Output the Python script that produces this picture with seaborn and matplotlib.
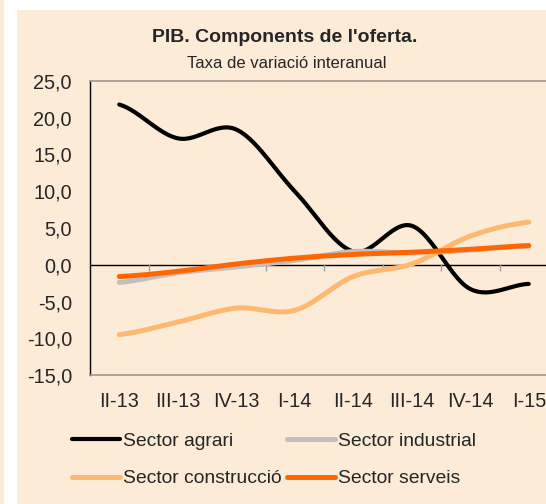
import numpy as np
import pandas as pd
import matplotlib
matplotlib.use("Agg")
import matplotlib.pyplot as plt
from matplotlib.lines import Line2D
from matplotlib.patches import Rectangle
import seaborn as sns

quarters = ["II-13", "III-13", "IV-13", "I-14", "II-14", "III-14", "IV-14", "I-15"]
agrari = [21.8, 17.2, 18.4, 10.0, 1.8, 5.3, -3.3, -2.6]
industrial = [-2.4, -1.1, -0.3, 0.6, 1.8, 1.6, 2.0, 2.6]
construccio = [-9.5, -7.8, -5.9, -6.2, -1.6, 0.1, 3.9, 5.8]
serveis = [-1.6, -0.9, 0.1, 0.9, 1.4, 1.7, 2.1, 2.6]
series_names = ["Sector agrari", "Sector industrial", "Sector construcció", "Sector serveis"]
yticks = [-15, -10, -5, 0, 5, 10, 15, 20, 25]

colors = {"Sector agrari": "#000000", "Sector industrial": "#C0C0C0",
          "Sector construcció": "#FFB870", "Sector serveis": "#FF6600"}
widths = {"Sector agrari": 3.0, "Sector industrial": 3.6,
          "Sector construcció": 3.6, "Sector serveis": 3.6}


def smooth(y, n=30):
    # Excel-style smoothed line (Catmull-Rom / cubic Hermite)
    y = np.asarray(y, float)
    k = len(y)
    m = np.zeros(k)
    m[1:-1] = (y[2:] - y[:-2]) / 2
    m[0] = (y[1] - y[0]) / 2
    m[-1] = (y[-1] - y[-2]) / 2
    xs, ys = [], []
    for i in range(k - 1):
        t = np.linspace(0, 1, n, endpoint=(i == k - 2))
        h00 = 2 * t**3 - 3 * t**2 + 1
        h10 = t**3 - 2 * t**2 + t
        h01 = -2 * t**3 + 3 * t**2
        h11 = t**3 - t**2
        xs.append(i + t)
        ys.append(h00 * y[i] + h10 * m[i] + h01 * y[i + 1] + h11 * m[i + 1])
    return np.concatenate(xs), np.concatenate(ys)


rows = []
for name, vals in zip(series_names, [agrari, industrial, construccio, serveis]):
    xs, ys = smooth(vals)
    rows.append(pd.DataFrame({"x": xs, "y": ys, "serie": name}))
df = pd.concat(rows, ignore_index=True)

sns.set_style("white")
plt.rcParams["font.family"] = ["Liberation Sans", "DejaVu Sans"]

W, H = 546, 504
bg = "#FBEBD7"
fig = plt.figure(figsize=(W / 100, H / 100), dpi=100, facecolor="white")
fig.patches.append(Rectangle((0, 0), 4 / W, 1, transform=fig.transFigure,
                             facecolor=bg, edgecolor="none", zorder=-10))
fig.patches.append(Rectangle((17 / W, 0), 1 - 17 / W, 1 - 10 / H, transform=fig.transFigure,
                             facecolor=bg, edgecolor="none", zorder=-10))

ax = fig.add_axes([90 / W, 129 / H, 468 / W, 294 / H])
ax.set_facecolor(bg)

for name in series_names:
    sub = df[df["serie"] == name]
    sns.lineplot(data=sub, x="x", y="y", ax=ax, color=colors[name],
                 linewidth=widths[name], sort=False, legend=False,
                 estimator=None, solid_capstyle="round")

ax.set_xlim(-0.5, len(quarters) - 0.5)
ax.set_ylim(-15, 25)
ax.axhline(0, color="black", linewidth=1.0, zorder=1)
ax.vlines([i + 0.5 for i in range(len(quarters) - 1)], -0.9, 0.15,
          color="#A0A0A0", linewidth=1.0, zorder=1)

ax.set_yticks(yticks)
ax.set_yticklabels([f"{v:.1f}".replace(".", ",") for v in yticks], fontsize=14.3)
ax.set_xticks(range(len(quarters)))
ax.set_xticklabels(quarters, fontsize=14.3)
ax.tick_params(axis="x", length=0, pad=12.5)
ax.tick_params(axis="y", direction="out", length=5, color="#A0A0A0", pad=8)
ax.set_xlabel("")
ax.set_ylabel("")

for s in ["top", "bottom"]:
    ax.spines[s].set_color("#A09890")
    ax.spines[s].set_linewidth(1.2)
ax.spines["left"].set_color("black")
ax.spines["left"].set_linewidth(1.0)
ax.spines["right"].set_visible(False)

fig.text(285 / W, 1 - 42 / H, "PIB. Components de l'oferta.", ha="center", va="baseline",
         fontsize=14, fontweight="bold")
fig.text(287 / W, 1 - 68 / H, "Taxa de variació interanual", ha="center", va="baseline",
         fontsize=12)

handles = [Line2D([0], [0], color=colors[n], linewidth=widths[n]) for n in series_names]
order = [0, 2, 1, 3]
fig.legend([handles[i] for i in order], [series_names[i] for i in order],
           loc="upper left", bbox_to_anchor=(72 / W, 1 - 432 / H), ncol=2,
           frameon=False, fontsize=13.9, handlelength=2.5, handletextpad=0.15,
           columnspacing=0.25, labelspacing=1.05, borderpad=0, borderaxespad=0)

fig.savefig("out.png", dpi=100, facecolor="white")
